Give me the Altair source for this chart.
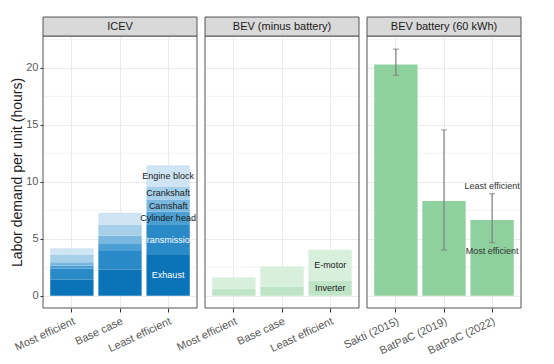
import altair as alt
import pandas as pd

# ---------------- data ----------------
scenarios = ["Most efficient", "Base case", "Least efficient"]
icev_components = ["Exhaust", "Transmission", "Cylinder head", "Camshaft", "Crankshaft", "Engine block"]
icev_exhaust = [1.40, 2.27, 3.58]
icev_transmission = [0.96, 1.66, 2.62]
icev_cylinder_head = [0.29, 0.67, 1.16]
icev_camshaft = [0.29, 0.67, 1.08]
icev_crankshaft = [0.64, 0.93, 1.11]
icev_engine_block = [0.59, 1.08, 1.89]
icev_colors = ["#0b73b8", "#2a8ac7", "#4c9fd3", "#7ab7df", "#a6cfea", "#d0e5f4"]
icev_text_colors = ["white", "white", "#1a1a1a", "#1a1a1a", "#1a1a1a", "#1a1a1a"]

bev_components = ["Inverter", "E-motor"]
bev_inverter = [0.61, 0.81, 1.34]
bev_emotor = [0.99, 1.75, 2.68]
bev_colors = ["#bfe5c6", "#d8efdc"]

battery_sources = ["Sakti (2015)", "BatPaC (2019)", "BatPaC (2022)"]
battery_value = [20.3, 8.3, 6.65]
battery_low = [19.35, 4.0, 4.65]
battery_high = [21.65, 14.55, 8.95]
battery_notes = ["Least efficient", "Most efficient"]
battery_note_y = [9.6, 3.9]

panel_titles = ["ICEV", "BEV (minus battery)", "BEV battery (60 kWh)"]
major_ticks = [0, 5, 10, 15, 20]
minor_ticks = [2.5, 7.5, 12.5, 17.5, 22.5]

# ---------------- tables ----------------
icev_vals = [icev_exhaust, icev_transmission, icev_cylinder_head,
             icev_camshaft, icev_crankshaft, icev_engine_block]
rows = []
for si, s in enumerate(scenarios):
    base = 0.0
    for ci, c in enumerate(icev_components):
        v = icev_vals[ci][si]
        rows.append({"scenario": s, "component": c, "order": ci, "y0": base,
                     "y1": base + v, "mid": base + v / 2, "tcol": icev_text_colors[ci]})
        base += v
icev_df = pd.DataFrame(rows)

bev_vals = [bev_inverter, bev_emotor]
rows = []
for si, s in enumerate(scenarios):
    base = 0.0
    for ci, c in enumerate(bev_components):
        v = bev_vals[ci][si]
        rows.append({"scenario": s, "component": c, "order": ci, "y0": base,
                     "y1": base + v, "mid": base + v / 2})
        base += v
bev_df = pd.DataFrame(rows)

bat_df = pd.DataFrame({"source": battery_sources, "value": battery_value,
                       "low": battery_low, "high": battery_high})
note_df = pd.DataFrame({"source": [battery_sources[2]] * 2, "label": battery_notes,
                        "y": battery_note_y})
minor_df = pd.DataFrame({"v": minor_ticks})

# ---------------- style ----------------
FONT = "Liberation Sans"
W, H = 154, 272
STRIP = 19
ydom = [-1.085, 22.8]
xscale = alt.Scale(paddingInner=0.1, paddingOuter=0.15)
yscale = alt.Scale(domain=ydom, nice=False, zero=False)


def x_axis():
    return alt.Axis(title=None, labelAngle=-25, labelAlign="right", labelBaseline="top",
                    labelFontSize=11, labelColor="#595959", labelFont=FONT,
                    tickColor="#333333", tickSize=4, domain=False, grid=True,
                    gridColor="#ebebeb", labelPadding=3)


def y_axis(first):
    if first:
        return alt.Axis(values=major_ticks, title="Labor demand per unit (hours)",
                        titleFontSize=14, titleFont=FONT, titleFontWeight="normal",
                        titleColor="#1a1a1a", labelFontSize=11, labelColor="#595959",
                        labelFont=FONT, tickColor="#333333", tickSize=3, domain=False,
                        grid=True, gridColor="#ebebeb", titlePadding=1, labelPadding=2)
    return alt.Axis(values=major_ticks, title=None, labels=False, ticks=False,
                    domain=False, grid=True, gridColor="#ebebeb")


def minor_layer(first):
    return alt.Chart(minor_df).mark_rule(color="#f3f3f3", strokeWidth=1).encode(
        y=alt.Y("v:Q", scale=yscale, axis=y_axis(first)))


def frame_layers(title):
    d = pd.DataFrame({"t": [title]})
    border = alt.Chart(d).mark_rect(fill=None, stroke="#555555", strokeWidth=1).encode(
        x=alt.value(0), x2=alt.value(W), y=alt.value(0), y2=alt.value(H))
    rect = alt.Chart(d).mark_rect(fill="#d9d9d9", stroke="#555555", strokeWidth=1).encode(
        x=alt.value(0), x2=alt.value(W), y=alt.value(-STRIP), y2=alt.value(0))
    txt = alt.Chart(d).mark_text(font=FONT, fontSize=11, color="#1a1a1a").encode(
        x=alt.value(W / 2), y=alt.value(-STRIP / 2), text="t:N")
    return [border, rect, txt]


# ---------------- panel 1: ICEV ----------------
icev_bars = alt.Chart(icev_df).mark_bar().encode(
    x=alt.X("scenario:N", sort=scenarios, scale=xscale, axis=x_axis()),
    y=alt.Y("y0:Q", scale=yscale),
    y2="y1:Q",
    color=alt.Color("component:N", sort=icev_components,
                    scale=alt.Scale(domain=icev_components, range=icev_colors), legend=None),
)
icev_text = alt.Chart(icev_df[icev_df.scenario == "Least efficient"]).mark_text(
    font=FONT, fontSize=9).encode(
    x=alt.X("scenario:N", sort=scenarios, scale=xscale),
    y=alt.Y("mid:Q", scale=yscale),
    text="component:N",
    color=alt.Color("tcol:N", scale=None),
)
p1 = alt.layer(minor_layer(True), icev_bars, icev_text, *frame_layers(panel_titles[0])).properties(
    width=W, height=H)

# ---------------- panel 2: BEV ----------------
bev_bars = alt.Chart(bev_df).mark_bar().encode(
    x=alt.X("scenario:N", sort=scenarios, scale=xscale, axis=x_axis()),
    y=alt.Y("y0:Q", scale=yscale),
    y2="y1:Q",
    color=alt.Color("component:N", sort=bev_components,
                    scale=alt.Scale(domain=bev_components, range=bev_colors), legend=None),
)
bev_text = alt.Chart(bev_df[bev_df.scenario == "Least efficient"]).mark_text(
    font=FONT, fontSize=9, color="#1a1a1a").encode(
    x=alt.X("scenario:N", sort=scenarios, scale=xscale),
    y=alt.Y("mid:Q", scale=yscale),
    text="component:N",
)
p2 = alt.layer(minor_layer(False), bev_bars, bev_text, *frame_layers(panel_titles[1])).properties(
    width=W, height=H)

# ---------------- panel 3: battery ----------------
bat_bars = alt.Chart(bat_df).mark_bar(color="#8fd19e").encode(
    x=alt.X("source:N", sort=battery_sources, scale=xscale, axis=x_axis()),
    y=alt.Y("value:Q", scale=yscale),
)
bat_err = alt.Chart(bat_df).mark_rule(color="#7f7f7f", strokeWidth=1.2).encode(
    x=alt.X("source:N", sort=battery_sources, scale=xscale),
    y=alt.Y("low:Q", scale=yscale), y2="high:Q",
)
cap_hi = alt.Chart(bat_df).mark_tick(color="#7f7f7f", size=6, thickness=1.2).encode(
    x=alt.X("source:N", sort=battery_sources, scale=xscale),
    y=alt.Y("high:Q", scale=yscale),
)
cap_lo = alt.Chart(bat_df).mark_tick(color="#7f7f7f", size=6, thickness=1.2).encode(
    x=alt.X("source:N", sort=battery_sources, scale=xscale),
    y=alt.Y("low:Q", scale=yscale),
)
notes = alt.Chart(note_df).mark_text(font=FONT, fontSize=9, color="#333333").encode(
    x=alt.X("source:N", sort=battery_sources, scale=xscale),
    y=alt.Y("y:Q", scale=yscale),
    text="label:N",
)
p3 = alt.layer(minor_layer(False), bat_bars, bat_err, cap_hi, cap_lo, notes,
               *frame_layers(panel_titles[2])).properties(width=W, height=H)

chart = alt.hconcat(p1, p2, p3, spacing=8, bounds="flush").resolve_scale(
    color="independent", x="independent"
).properties(
    padding={"left": 2, "top": 8, "right": 5, "bottom": 5}, background="white"
).configure_view(stroke=None)

chart.save("out.html", embed_options={"renderer": "svg", "actions": False})
